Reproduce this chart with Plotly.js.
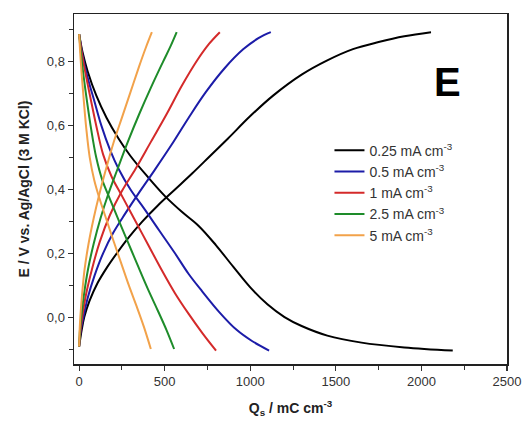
<!DOCTYPE html>
<html>
<head>
<meta charset="utf-8">
<script src="https://cdn.plot.ly/plotly-3.0.1.min.js"></script>
<style>html,body{margin:0;padding:0;background:#fff;}#chart{width:525px;height:425px;}</style>
</head>
<body>
<div id="chart"></div>
<script>
// Series labels and colours
const seriesNames = ["0.25 mA cm<sup>-3</sup>", "0.5 mA cm<sup>-3</sup>", "1 mA cm<sup>-3</sup>", "2.5 mA cm<sup>-3</sup>", "5 mA cm<sup>-3</sup>"];
const seriesColors = ["#000000", "#1c1ca8", "#d42a2a", "#1e8c2a", "#f2a24a"];

// 0.25 mA cm-3
const qBlackCharge = [0, 15, 30, 60, 107, 162, 220, 290, 370, 460, 560, 660, 765, 870, 1000, 1135, 1300, 1447, 1600, 1750, 1900, 2056];
const eBlackCharge = [-0.092, -0.04, 0.0, 0.05, 0.106, 0.155, 0.20, 0.25, 0.30, 0.35, 0.40, 0.45, 0.505, 0.56, 0.63, 0.695, 0.76, 0.804, 0.84, 0.862, 0.88, 0.893];
const qBlackDischarge = [0, 20, 50, 100, 160, 230, 300, 400, 500, 600, 700, 800, 900, 1000, 1100, 1200, 1300, 1450, 1650, 1900, 2183];
const eBlackDischarge = [0.887, 0.83, 0.77, 0.695, 0.625, 0.56, 0.505, 0.44, 0.38, 0.33, 0.285, 0.225, 0.158, 0.093, 0.04, 0.0, -0.028, -0.058, -0.08, -0.095, -0.105];

// 0.5 mA cm-3
const qBlueCharge = [0, 10, 25, 50, 90, 140, 200, 270, 350, 440, 540, 640, 740, 850, 960, 1050, 1120];
const eBlueCharge = [-0.092, -0.04, 0.0, 0.06, 0.13, 0.20, 0.265, 0.325, 0.39, 0.46, 0.54, 0.625, 0.705, 0.78, 0.84, 0.875, 0.893];
const qBlueDischarge = [0, 20, 50, 90, 130, 180, 230, 300, 380, 470, 560, 640, 720, 820, 920, 1010, 1110];
const eBlueDischarge = [0.887, 0.82, 0.75, 0.675, 0.60, 0.525, 0.465, 0.40, 0.34, 0.27, 0.20, 0.135, 0.08, 0.015, -0.04, -0.075, -0.105];

// 1 mA cm-3
const qRedCharge = [0, 8, 18, 40, 75, 120, 180, 250, 330, 420, 510, 600, 690, 760, 822];
const eRedCharge = [-0.092, -0.04, 0.0, 0.07, 0.15, 0.235, 0.32, 0.395, 0.465, 0.55, 0.635, 0.725, 0.805, 0.857, 0.893];
const qRedDischarge = [0, 15, 35, 65, 100, 140, 190, 250, 320, 400, 480, 560, 640, 720, 800];
const eRedDischarge = [0.887, 0.83, 0.77, 0.69, 0.60, 0.51, 0.44, 0.38, 0.31, 0.23, 0.15, 0.075, 0.01, -0.05, -0.105];

// 2.5 mA cm-3
const qGreenCharge = [0, 5, 12, 28, 52, 85, 125, 170, 225, 285, 350, 420, 490, 535, 570];
const eGreenCharge = [-0.092, -0.04, 0.0, 0.07, 0.15, 0.23, 0.31, 0.385, 0.465, 0.55, 0.635, 0.72, 0.80, 0.85, 0.893];
const qGreenDischarge = [0, 10, 25, 45, 70, 100, 135, 180, 230, 285, 340, 400, 460, 510, 555];
const eGreenDischarge = [0.887, 0.83, 0.76, 0.68, 0.59, 0.50, 0.43, 0.37, 0.305, 0.235, 0.165, 0.09, 0.02, -0.04, -0.10];

// 5 mA cm-3
const qOrangeCharge = [0, 3, 7, 17, 32, 55, 85, 118, 155, 200, 250, 300, 350, 390, 425];
const eOrangeCharge = [-0.092, -0.04, 0.0, 0.07, 0.15, 0.23, 0.31, 0.385, 0.46, 0.545, 0.625, 0.705, 0.785, 0.845, 0.893];
const qOrangeDischarge = [0, 6, 15, 27, 42, 62, 88, 120, 160, 200, 245, 290, 335, 378, 419];
const eOrangeDischarge = [0.887, 0.83, 0.76, 0.68, 0.59, 0.50, 0.43, 0.37, 0.305, 0.24, 0.17, 0.10, 0.035, -0.03, -0.10];

// Axis ticks
const xTickVals = [0, 500, 1000, 1500, 2000, 2500];
const yTickVals = [0.0, 0.2, 0.4, 0.6, 0.8];

const curves = [
  [qBlackCharge, eBlackCharge, qBlackDischarge, eBlackDischarge],
  [qBlueCharge, eBlueCharge, qBlueDischarge, eBlueDischarge],
  [qRedCharge, eRedCharge, qRedDischarge, eRedDischarge],
  [qGreenCharge, eGreenCharge, qGreenDischarge, eGreenDischarge],
  [qOrangeCharge, eOrangeCharge, qOrangeDischarge, eOrangeDischarge]
];

const traces = [];
curves.forEach((c, i) => {
  traces.push({
    x: c[0], y: c[1], type: 'scatter', mode: 'lines',
    name: seriesNames[i], legendgroup: 'g' + i, showlegend: true,
    line: {color: seriesColors[i], width: 2, shape: 'spline', smoothing: 1}
  });
  traces.push({
    x: c[2], y: c[3], type: 'scatter', mode: 'lines',
    name: seriesNames[i], legendgroup: 'g' + i, showlegend: false,
    line: {color: seriesColors[i], width: 2, shape: 'spline', smoothing: 1}
  });
});

const layout = {
  width: 525, height: 425,
  margin: {l: 74, r: 18, t: 14, b: 61},
  paper_bgcolor: '#ffffff', plot_bgcolor: '#ffffff',
  separators: ',.',
  font: {family: 'Liberation Sans, Arial, sans-serif', color: '#333333', size: 13},
  xaxis: {
    range: [-30, 2500],
    tickvals: xTickVals, ticktext: xTickVals.map(String),
    ticks: 'outside', ticklen: 5, tickwidth: 1.2, tickcolor: '#333',
    minor: {dtick: 250, tick0: 0, ticks: 'outside', ticklen: 4, tickwidth: 1, tickcolor: '#333'},
    showline: true, linecolor: '#222', linewidth: 1.5, mirror: true,
    showgrid: false, zeroline: false,
    tickfont: {size: 13, color: '#333'},
    title: {text: '<b>Q<sub>s</sub> / mC cm<sup>-3</sup></b>', font: {size: 14, color: '#222'}, standoff: 15}
  },
  yaxis: {
    range: [-0.147, 0.95],
    tickvals: yTickVals, tickformat: '.1f',
    ticks: 'outside', ticklen: 5, tickwidth: 1.2, tickcolor: '#333',
    minor: {dtick: 0.1, tick0: 0, ticks: 'outside', ticklen: 4, tickwidth: 1, tickcolor: '#333'},
    showline: true, linecolor: '#222', linewidth: 1.5, mirror: true,
    showgrid: false, zeroline: false,
    tickfont: {size: 13, color: '#333'},
    title: {text: '<b>E / V vs. Ag/AgCl (3 M KCl)</b>', font: {size: 14, color: '#222'}, standoff: 14}
  },
  legend: {
    x: 0.59, y: 0.655, xanchor: 'left', yanchor: 'top',
    bgcolor: 'rgba(0,0,0,0)', borderwidth: 0,
    font: {size: 14, color: '#333'},
    tracegroupgap: 0, itemwidth: 30
  },
  annotations: [{
    text: '<b>E</b>', xref: 'paper', yref: 'paper',
    x: (447 - 74) / 433, y: (364 - 82) / 350, xanchor: 'center', yanchor: 'middle',
    showarrow: false, font: {size: 40, color: '#000', family: 'Liberation Sans, Arial, sans-serif'}
  }]
};

Plotly.newPlot('chart', traces, layout, {displayModeBar: false, staticPlot: true});
</script>
</body>
</html>
